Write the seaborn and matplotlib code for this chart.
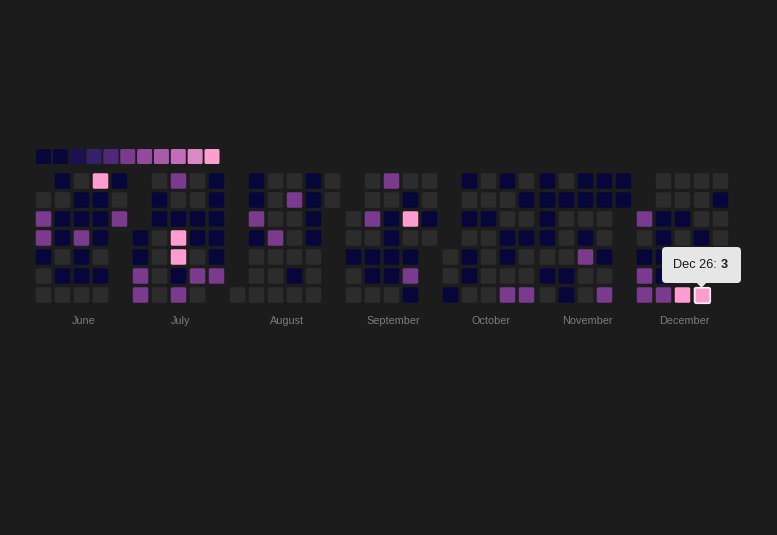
import pandas as pd
import matplotlib.pyplot as plt
import seaborn as sns
from matplotlib.patches import FancyBboxPatch, Polygon

# daily counts, June 1 - December 31 2020, one list per month
june = [0, 2, 2, 1, 0, 0,
        1, 0, 1, 1, 0, 1, 0,
        0, 1, 1, 2, 1, 1, 0,
        3, 1, 1, 1, 0, 1, 0,
        1, 0, 2]
july = [1, 1, 2, 2,
        0, 1, 1, 0, 0, 0, 0,
        2, 0, 1, 3, 3, 1, 2,
        0, 0, 1, 1, 0, 2, 0,
        1, 1, 1, 1, 1, 2]
august = [0,
          1, 1, 2, 1, 0, 0, 0,
          0, 0, 0, 2, 0, 0, 0,
          0, 2, 0, 0, 0, 1, 0,
          1, 1, 1, 1, 0, 0, 0,
          0, 0]
september = [0, 0, 1, 0, 0,
             0, 0, 2, 0, 1, 1, 0,
             2, 0, 1, 1, 1, 1, 0,
             0, 1, 3, 0, 1, 2, 1,
             0, 0, 1, 0]
october = [0, 0, 1,
           1, 0, 1, 0, 1, 1, 0,
           0, 0, 1, 0, 0, 0, 0,
           1, 0, 0, 1, 1, 0, 2,
           0, 1, 0, 1, 0, 0, 2]
november = [1, 1, 1, 1, 0, 1, 0,
            0, 1, 0, 0, 0, 1, 1,
            1, 1, 0, 1, 2, 0, 0,
            1, 1, 0, 0, 1, 0, 2,
            1, 1]
december = [2, 0, 1, 2, 2,
            0, 0, 1, 1, 1, 1, 2,
            0, 0, 1, 0, 0, 0, 3,
            0, 0, 0, 1, 1, 0, 3,
            0, 1, 0, 0, 0]

month_names = ['June', 'July', 'August', 'September', 'October', 'November', 'December']
level_colors = {0: '#2c2c2c', 1: '#07063a', 2: '#7a3a8e', 3: '#ff9dd0'}
legend_colors = ['#07073a', '#07073a', '#1d1150', '#35206a', '#50287a', '#7a3a8e',
                 '#954a9e', '#a95aa8', '#c26db8', '#dc88c4', '#ff9fd0']
tooltip_date = '2020-12-26'

BG = '#1c1c1c'
X0, Y0, PITCH, MGAP = 43.5, 181, 19, 2

counts = june + july + august + september + october + november + december
df = pd.DataFrame({'date': pd.date_range('2020-06-01', '2020-12-31'), 'count': counts})
df['dow'] = (df['date'].dt.dayofweek + 1) % 7  # sunday on top
df['m'] = df['date'].dt.month - 6
day0 = df['date'].dt.day - 1
df['col'] = (day0 + (df['dow'] - day0) % 7) // 7
ncols = df.groupby('m')['col'].max() + 1
offset = ncols.cumsum().shift(fill_value=0)
df['x'] = X0 + PITCH * (df['m'].map(offset) + df['col']) + MGAP * df['m']
df['y'] = Y0 + PITCH * df['dow']

# rounded square marker
cell = FancyBboxPatch((-0.5, -0.5), 1, 1, boxstyle='round,pad=0,rounding_size=0.1')
marker = cell.get_path()
msize = (15.5 * 72 / 100) ** 2

fig = plt.figure(figsize=(7.77, 5.35), dpi=100, facecolor=BG)
ax = fig.add_axes([0, 0, 1, 1])
ax.set_facecolor(BG)

sns.scatterplot(data=df, x='x', y='y', hue='count', palette=level_colors, marker=marker,
                s=msize, linewidth=0, legend=False, ax=ax)

# colour scale strip
leg = pd.DataFrame({'step': range(len(legend_colors))})
leg['x'] = X0 + 16.85 * leg['step']
leg['y'] = 156.5
sns.scatterplot(data=leg, x='x', y='y', hue='step', palette=legend_colors, marker=marker,
                s=(15 * 72 / 100) ** 2, linewidth=0, legend=False, ax=ax)

# month labels
centers = df.groupby('m')['x'].agg(lambda v: (v.min() + v.max()) / 2)
for m, name in enumerate(month_names):
    ax.text(centers[m] + 2, 321, name, ha='center', va='center', fontsize=7.8,
            color='#7c7c7c', family='Liberation Sans')

# tooltip on the hovered day
hit = df[df['date'] == tooltip_date].iloc[0]
ax.scatter([hit['x']], [hit['y']], marker=marker, s=msize, facecolor=level_colors[hit['count']],
           edgecolor='#f2f2f2', linewidth=1.2, zorder=4)
tx, ty = hit['x'], hit['y'] - 30
ax.add_patch(FancyBboxPatch((tx - 39.5, ty - 18), 79, 36, boxstyle='round,pad=0,rounding_size=4',
                            facecolor='#e6e6e6', edgecolor='none', zorder=5))
ax.add_patch(Polygon([[tx - 5, ty + 17.5], [tx + 5, ty + 17.5], [tx, ty + 23]],
                     closed=True, facecolor='#e6e6e6', edgecolor='none', zorder=5))
date_txt = pd.Timestamp(tooltip_date).strftime('%b %d').replace(' 0', ' ')
ax.text(tx + 15.2, ty, f'{date_txt}:', ha='right', va='center', fontsize=9.2,
        color='#1a1a1a', family='Liberation Sans', zorder=6)
ax.text(tx + 19.2, ty, str(hit['count']), ha='left', va='center', fontsize=9.2,
        color='#1a1a1a', family='Liberation Sans', weight='bold', zorder=6)

ax.set_xlim(0, 777)
ax.set_ylim(535, 0)
ax.axis('off')

fig.savefig('out.png', dpi=100, facecolor=BG)
